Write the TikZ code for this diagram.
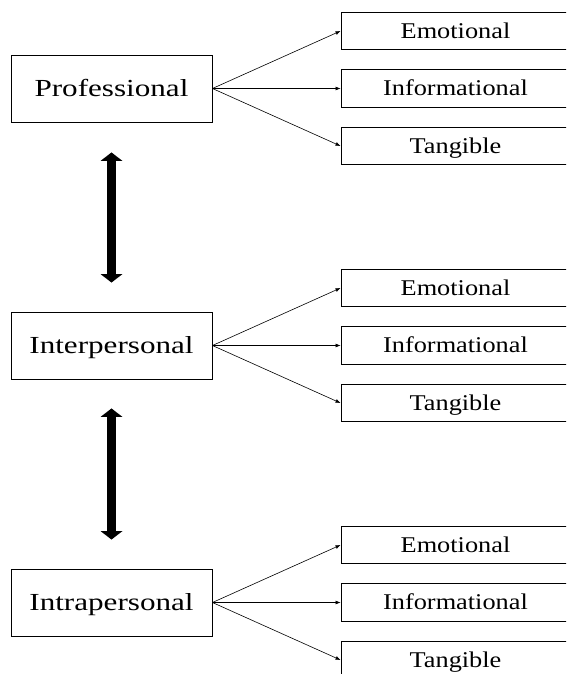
\documentclass[tikz,border=0pt]{standalone}
\usepackage{fontspec}
\setmainfont{Liberation Serif}
\newfontfamily\srcfont[FakeStretch=1.27]{Liberation Serif}
\newfontfamily\kindfont[FakeStretch=1.17]{Liberation Serif}
\usetikzlibrary{arrows.meta}

\begin{document}
\begin{tikzpicture}[x=1pt,y=-1pt,
  srcbox/.style={draw,line width=0.9pt,minimum width=201pt,minimum height=67pt,
    inner sep=0pt,text height=16.2pt,text depth=0pt,font=\srcfont\fontsize{24.5}{28}\selectfont},
  kindbox/.style={draw,line width=0.9pt,minimum width=229pt,minimum height=37.5pt,
    inner sep=0pt,text height=14.9pt,text depth=0pt,font=\kindfont\fontsize{22.5}{26}\selectfont},
  fan/.style={-{Latex[length=5pt,width=4pt]},line width=0.6pt},
  link/.style={{Triangle[length=8.5pt,width=22pt,line width=0pt]}-{Triangle[length=8.5pt,width=22pt,line width=0pt]},line width=9.3pt}]
 \useasboundingbox (0,0) rectangle (566,674);
 \clip (0,0) rectangle (566,674);
 \foreach \nm/\lbl/\cy in {prof/Professional/88.5,inter/Interpersonal/345.5,intra/Intrapersonal/602.5}{
  \node[srcbox] (\nm) at (111.5,\cy) {\lbl};
  \foreach \kd/\kl/\dy in {emo/Emotional/-57.5,info/Informational/0,tang/Tangible/57.5}{
   \node[kindbox] (\nm-\kd) at (455.5,\cy+\dy) {\kl};
   \draw[fan] (\nm.east) -- (\nm-\kd.west);
  }
 }
 \draw[link,shorten <=30pt,shorten >=29pt] (prof) -- (inter);
 \draw[link,shorten <=29pt,shorten >=29pt] (inter) -- (intra);
\end{tikzpicture}
\end{document}
